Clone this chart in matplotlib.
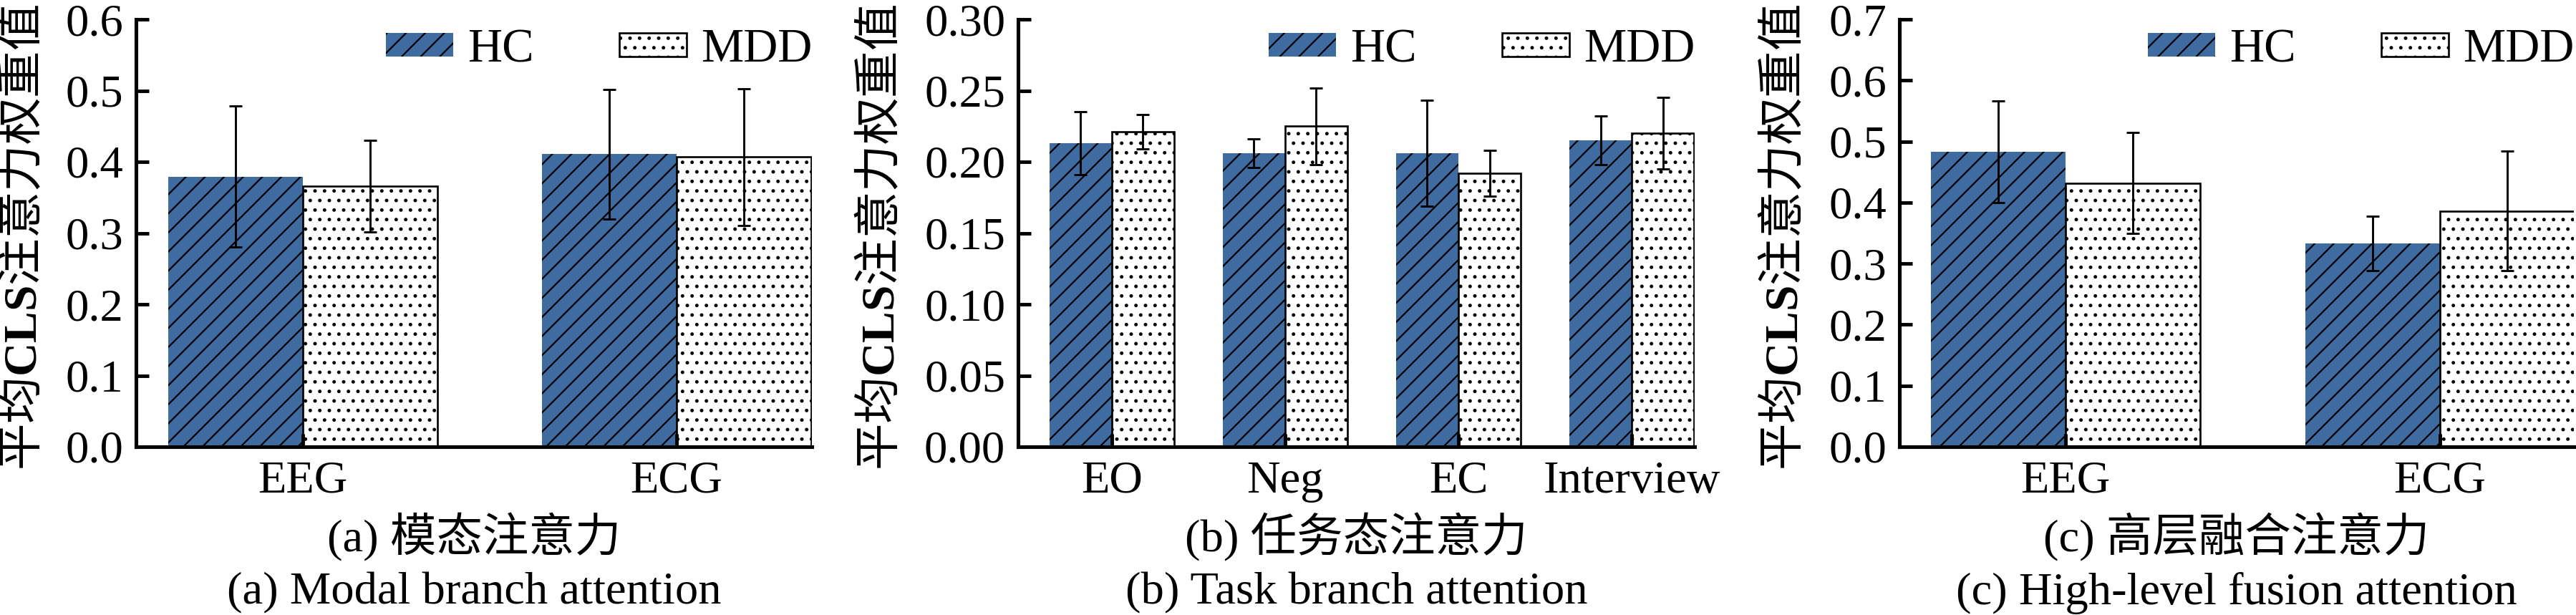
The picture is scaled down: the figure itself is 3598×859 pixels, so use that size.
import numpy as np
import matplotlib.pyplot as plt
from matplotlib.ticker import FormatStrFormatter

plt.rcParams['font.family'] = ['Liberation Serif', 'Noto Sans CJK SC']
plt.rcParams['mathtext.fontset'] = 'custom'
plt.rcParams['mathtext.bf'] = 'Liberation Serif:bold'
plt.rcParams['hatch.linewidth'] = 1.0

# ---- data ----
modal_cats = ['EEG', 'ECG']
modal_hc = [0.379, 0.411]
modal_hc_err = [0.099, 0.091]
modal_mdd = [0.366, 0.407]
modal_mdd_err = [0.064, 0.096]

task_cats = ['EO', 'Neg', 'EC', 'Interview']
task_hc = [0.213, 0.206, 0.206, 0.215]
task_hc_err = [0.022, 0.010, 0.037, 0.017]
task_mdd = [0.221, 0.225, 0.192, 0.220]
task_mdd_err = [0.012, 0.027, 0.016, 0.025]

fusion_cats = ['EEG', 'ECG']
fusion_hc = [0.483, 0.333]
fusion_hc_err = [0.083, 0.044]
fusion_mdd = [0.432, 0.386]
fusion_mdd_err = [0.083, 0.098]

captions_cn = ['(a) 模态注意力', '(b) 任务态注意力', '(c) 高层融合注意力']
captions_en = ['(a) Modal branch attention', '(b) Task branch attention',
               '(c) High-level fusion attention']
ylabel = r'平均$\mathbf{CLS}$注意力权重值'

panels = [
    (modal_cats, modal_hc, modal_hc_err, modal_mdd, modal_mdd_err, 0.6, 0.1, '%.1f'),
    (task_cats, task_hc, task_hc_err, task_mdd, task_mdd_err, 0.3, 0.05, '%.2f'),
    (fusion_cats, fusion_hc, fusion_hc_err, fusion_mdd, fusion_mdd_err, 0.7, 0.1, '%.1f'),
]

W, H = 3598, 859
lefts = [190, 1422, 2653]
rights = [1134, 2367, 3595]
xlims = [(-0.446, 1.362), (-0.54, 3.363), (-0.444, 1.358)]
label_x = [-0.131, -0.167, -0.134]
bar_w = 0.36
blue = '#3f6ca0'

fig = plt.figure(figsize=(W / 160, H / 160), dpi=160)

for i, (cats, hc, hc_err, mdd, mdd_err, ymax, ystep, fmt) in enumerate(panels):
    ax = fig.add_axes([lefts[i] / W, 235 / H, (rights[i] - lefts[i]) / W, 597 / H])
    x = np.arange(len(cats))
    ekw = dict(ecolor='black', elinewidth=1.3, capthick=1.3)
    ax.bar(x - bar_w / 2, hc, bar_w, yerr=hc_err, color=blue, edgecolor='black',
           linewidth=0, hatch='//', label='HC', capsize=4, error_kw=ekw)
    ax.bar(x + bar_w / 2, mdd, bar_w, yerr=mdd_err, color='white', edgecolor='black',
           linewidth=1.2, hatch='..', label='MDD', capsize=4, error_kw=ekw)

    ax.set_xlim(*xlims[i])
    ax.set_ylim(0, ymax)
    ax.set_yticks(np.arange(0, ymax + ystep / 2, ystep))
    ax.yaxis.set_major_formatter(FormatStrFormatter(fmt))
    ax.set_xticks(x)
    ax.set_xticklabels(cats)

    for s in ['top', 'right']:
        ax.spines[s].set_visible(False)
    for s in ['left', 'bottom']:
        ax.spines[s].set_linewidth(2.3)
    ax.tick_params(axis='both', direction='in', length=8, width=2.2, labelsize=29, pad=8)
    ax.tick_params(axis='x', pad=9)

    ax.set_ylabel(ylabel, fontsize=29.5, family='Noto Sans CJK SC')
    ax.yaxis.set_label_coords(label_x[i], 0.49)

    ax.legend(loc='center right', bbox_to_anchor=(1.0, 0.928), ncol=2, frameon=False,
              fontsize=30, handlelength=1.41, handleheight=0.4, handletextpad=0.29,
              columnspacing=1.8, borderpad=0, borderaxespad=0)

    ax.text(0.5, -0.211, captions_cn[i], transform=ax.transAxes, ha='center',
            va='center', fontsize=29)
    ax.text(0.5, -0.343, captions_en[i], transform=ax.transAxes, ha='center',
            va='center', fontsize=29)

fig.savefig('out.png', dpi=160)
